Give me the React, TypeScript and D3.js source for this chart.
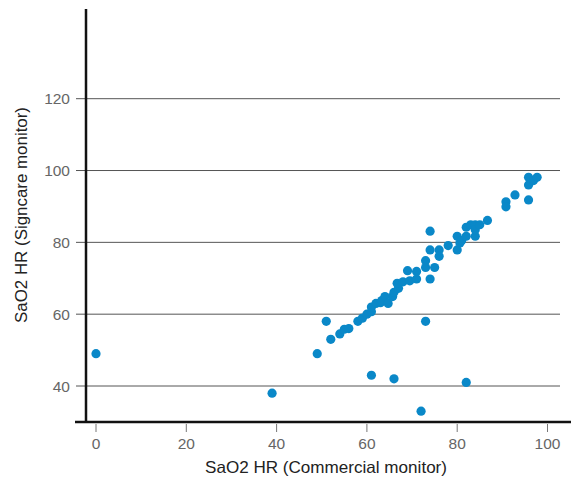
import React from "react";
import * as d3 from "d3";

const width = 571;
const height = 479;
const dotColor = "#0a88c8";
const font = "'Liberation Sans', Arial, sans-serif";

// commercial monitor HR (x) vs Signcare monitor HR (y)
const commercial = [
  0, 39, 49, 52, 51, 54, 55, 56, 58, 59, 60, 61, 61, 62, 63, 63.3, 64, 64.7,
  65.7, 66, 67, 66.7, 68, 69, 69.5, 71, 71, 73, 73, 73, 74, 74, 74, 75, 76, 76,
  78, 80, 80, 80.6, 81, 82, 82, 83, 84, 84, 84, 85, 86.7, 90.8, 90.8, 92.8,
  95.8, 95.8, 95.8, 96.9, 97.7, 61, 66, 72, 82,
];
const signcare = [
  49, 38, 49, 53, 58, 54.5, 55.8, 56, 58, 58.9, 60, 60.7, 62, 63, 63.2, 63.8,
  64.9, 63, 64.9, 66.1, 67.2, 68.6, 69, 72.1, 69.3, 71.9, 69.8, 58, 73, 74.9,
  83.1, 77.9, 69.8, 73, 77.9, 76.1, 79.1, 81.7, 77.9, 79.8, 80.5, 81.7, 84.2,
  84.9, 84.9, 81.7, 83.5, 84.9, 86.1, 91.3, 89.9, 93.2, 91.8, 96, 98.1, 97.2,
  98.1, 43, 42, 33, 41,
];
const xTicks = [0, 20, 40, 60, 80, 100];
const yTicks = [40, 60, 80, 100, 120];

const x = d3.scaleLinear().domain([0, 100]).range([96, 547.5]);
const y = d3.scaleLinear().domain([40, 120]).range([386, 98.7]);

const axisX = 86; // y axis line position
const axisY = 422; // x axis line position

const App = () => {
  const points = d3.zip(commercial, signcare);
  return (
    <svg
      width={width}
      height={height}
      style={{ position: "absolute", left: 0, top: 0, background: "#fff" }}
      fontFamily={font}
    >
      {yTicks.map((t) => (
        <g key={"y" + t}>
          <line x1={76} x2={560} y1={y(t)} y2={y(t)} stroke="#555" strokeWidth={1} />
          <text x={70} y={y(t) + 5.5} textAnchor="end" fontSize={15.5} fill="#666">
            {t}
          </text>
        </g>
      ))}
      {xTicks.map((t) => (
        <g key={"x" + t}>
          <line x1={x(t)} x2={x(t)} y1={axisY + 2} y2={axisY + 10} stroke="#777" strokeWidth={1} />
          <text x={x(t)} y={449} textAnchor="middle" fontSize={15.5} fill="#666">
            {t}
          </text>
        </g>
      ))}
      <line x1={axisX} x2={axisX} y1={9} y2={axisY + 1} stroke="#111" strokeWidth={2.5} />
      <line x1={75} x2={571} y1={axisY} y2={axisY} stroke="#111" strokeWidth={2.5} />
      {points.map(([cx, cy], i) => (
        <circle key={i} cx={x(cx)} cy={y(cy)} r={4.6} fill={dotColor} />
      ))}
      <text
        x={326}
        y={473}
        textAnchor="middle"
        fontSize={16.5}
        fill="#222"
        textLength={242}
        lengthAdjust="spacingAndGlyphs"
      >
        SaO2 HR (Commercial monitor)
      </text>
      <text
        transform={`translate(27, 215) rotate(-90)`}
        textAnchor="middle"
        fontSize={16.5}
        fill="#222"
        textLength={216}
        lengthAdjust="spacingAndGlyphs"
      >
        SaO2 HR (Signcare monitor)
      </text>
    </svg>
  );
};

export default App;
